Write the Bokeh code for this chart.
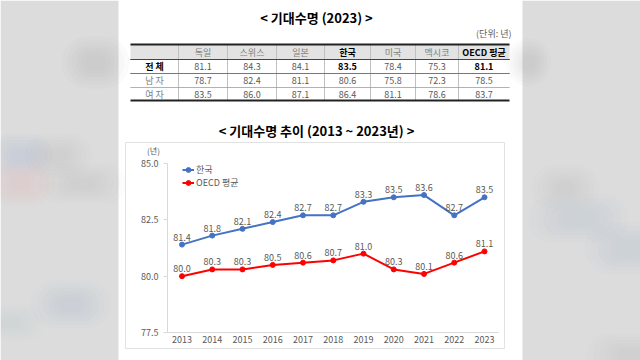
from bokeh.plotting import figure
from bokeh.models import (Range1d, FixedTicker, Label, BoxAnnotation,
                          Legend, LegendItem, ColumnDataSource, PrintfTickFormatter)
from bokeh.core.properties import value
from bokeh.embed import file_html
from bokeh.resources import INLINE

# ---- chart data ----
years = [2013, 2014, 2015, 2016, 2017, 2018, 2019, 2020, 2021, 2022, 2023]
korea = [81.4, 81.8, 82.1, 82.4, 82.7, 82.7, 83.3, 83.5, 83.6, 82.7, 83.5]
oecd = [80.0, 80.3, 80.3, 80.5, 80.6, 80.7, 81.0, 80.3, 80.1, 80.6, 81.1]
y_ticks = [77.5, 80.0, 82.5, 85.0]
series_names = ["한국", "OECD 평균"]

# ---- table data ----
table_cols = ["독일", "스위스", "일본", "한국", "미국", "멕시코", "OECD 평균"]
table_rows = ["전 체", "남 자", "여 자"]
total = [81.1, 84.3, 84.1, 83.5, 78.4, 75.3, 81.1]
male = [78.7, 82.4, 81.1, 80.6, 75.8, 72.3, 78.5]
female = [83.5, 86.0, 87.1, 86.4, 81.1, 78.6, 83.7]

FONT = "Noto Sans CJK KR"
GRAY_TXT = "#595959"
BLUE = "#4472C4"
RED = "#FF0000"
BG = "#dcdcdc"
W, H = 640, 360

# layout: the plot frame covers the whole canvas; the chart's scale is placed
# so that the first year sits at px 181.5 and years are 30.25 px apart,
# value 85.0 at px 163 and 77.5 at px 332 (from top).
PX_YEAR = 30.25
X0 = years[0] - 181.5 / PX_YEAR
PX_UNIT = (332 - 163) / (y_ticks[-1] - y_ticks[0])
Y_TOP = y_ticks[-1] + 163 / PX_UNIT
Y_BOT = y_ticks[0] - (H - 332) / PX_UNIT


def xdata(px):
    return X0 + px / PX_YEAR


p = figure(width=W, height=H, x_range=Range1d(X0, X0 + W / PX_YEAR),
           y_range=Range1d(Y_BOT, Y_TOP), output_backend="svg", toolbar_location=None,
           min_border=0)
p.outline_line_color = None
p.grid.visible = False
p.background_fill_color = "white"
p.border_fill_color = "white"

HAS_RADIUS = "border_radius" in BoxAnnotation.properties()


def box(l, r, t, b, fill=None, line=None, lw=1, dash="solid", level="annotation", alpha=1.0, radius=0):
    kw = dict(left=l, right=r, top=t, bottom=b, left_units="canvas", right_units="canvas",
              top_units="canvas", bottom_units="canvas", level=level)
    if fill:
        kw.update(fill_color=fill, fill_alpha=alpha)
    else:
        kw.update(fill_alpha=0)
    if line:
        kw.update(line_color=line, line_alpha=1, line_width=lw, line_dash=dash)
    else:
        kw.update(line_alpha=0)
    if radius and HAS_RADIUS:
        kw.update(border_radius=radius)
    p.add_layout(BoxAnnotation(**kw))


def label(x, y, text, size="9px", color=GRAY_TXT, bold=False, align="center"):
    p.add_layout(Label(x=x, y=y, x_units="canvas", y_units="canvas", text=text,
                       text_font=FONT, text_font_size=size, text_color=color,
                       text_font_style="bold" if bold else "normal",
                       text_align=align, text_baseline="middle"))


def blob(cx, cy, rx, ry, color, alpha):
    steps = (1.0, 0.85, 0.7, 0.56, 0.43, 0.3)
    for s in steps:
        w, h = rx * s, ry * s
        box(cx - w, cx + w, cy - h, cy + h, fill=color, alpha=alpha / len(steps), level="underlay",
            radius=int(min(w, h)))


# blurred background side panels
box(0, 118, 0, H, fill=BG, level="underlay")
box(522, W, 0, H, fill=BG, level="underlay")
blob(95, 62, 34, 26, "#a8a8a8", 0.25)
blob(20, 155, 32, 22, "#9fb0cf", 0.3)
blob(20, 183, 34, 22, "#e6a8a8", 0.3)
blob(58, 155, 34, 22, "#b8b8b8", 0.2)
blob(82, 183, 44, 20, "#b0b0b0", 0.2)
blob(70, 304, 40, 24, "#a9b3c6", 0.25)
blob(10, 322, 34, 18, "#b3bccc", 0.2)
blob(528, 62, 22, 24, "#a8a8a8", 0.25)
blob(565, 188, 34, 24, "#b5b5b5", 0.25)
blob(578, 218, 50, 24, "#aab6cc", 0.28)
blob(628, 248, 44, 26, "#aab6cc", 0.28)
blob(630, 355, 44, 22, "#a8a8a8", 0.2)

# chart box
box(125, 504, 142, 348, line="#e2e2e2", lw=1, level="underlay")

src = ColumnDataSource(dict(x=years, k=korea, o=oecd,
                            kl=["%.1f" % v for v in korea], ol=["%.1f" % v for v in oecd]))
r1 = p.line("x", "k", source=src, line_color=BLUE, line_width=2)
r1m = p.scatter("x", "k", source=src, size=5, color=BLUE)
r2 = p.line("x", "o", source=src, line_color=RED, line_width=2)
r2m = p.scatter("x", "o", source=src, size=5, color=RED)
for col in ("k", "o"):
    p.text(x="x", y=col, text=col + "l", source=src, text_align="center", text_baseline="bottom",
           y_offset=-4, text_font_size="9px", text_color=GRAY_TXT, text_font=value(FONT))

legend = Legend(items=[LegendItem(label=series_names[0], renderers=[r1, r1m]),
                       LegendItem(label=series_names[1], renderers=[r2, r2m])],
                location=(182, H - 189), padding=0, margin=0, spacing=0, glyph_width=12,
                glyph_height=13, label_height=13, label_standoff=2, label_text_font_size="9px",
                label_text_color=GRAY_TXT, label_text_font=FONT, border_line_color=None,
                background_fill_alpha=0)
p.add_layout(legend)

ax = p.yaxis[0]
ax.fixed_location = xdata(167)
ax.bounds = (y_ticks[0], y_ticks[-1])
ax.ticker = FixedTicker(ticks=y_ticks)
ax.formatter = PrintfTickFormatter(format="%.1f")
ax.axis_line_color = "#d9d9d9"
ax.major_tick_line_color = "#d9d9d9"
ax.major_tick_out = 4
ax.major_tick_in = 0
ax.minor_tick_line_color = None
ax.major_label_text_font_size = "9px"
ax.major_label_text_color = GRAY_TXT
ax.major_label_text_font = FONT
ax.major_label_standoff = 5

bx = p.xaxis[0]
bx.fixed_location = y_ticks[0]
bx.bounds = (xdata(167), xdata(498))
bx.ticker = FixedTicker(ticks=years)
bx.formatter = PrintfTickFormatter(format="%d")
bx.axis_line_color = "#d9d9d9"
bx.major_tick_line_color = None
bx.minor_tick_line_color = None
bx.major_tick_out = 0
bx.major_tick_in = 0
bx.major_label_text_font_size = "9px"
bx.major_label_text_color = GRAY_TXT
bx.major_label_text_font = FONT
bx.major_label_standoff = 3

# titles
label(316, 17, "< 기대수명 (2023) >", size="13px", color="#000000", bold=True)
label(511, 33, "(단위: 년)", size="9px", align="right")

# table
col_x = [130, 178, 227, 276, 324, 370, 415, 458, 509]
row_y = [44, 59, 73, 87, 100]
box(col_x[0], col_x[-1], row_y[0], row_y[1], fill="#e3e3e3", level="underlay")
for xx in col_x[1:-1]:
    box(xx, xx, row_y[0], row_y[-1], line="#c0c0c0", lw=1)
box(col_x[0], col_x[-1], row_y[0], row_y[0], line="#222222", lw=2)
box(col_x[0], col_x[-1], row_y[1], row_y[1], line="#444444", lw=1)
box(col_x[0], col_x[-1], row_y[2], row_y[2], line="#777777", lw=1)
box(col_x[0], col_x[-1], row_y[3], row_y[3], line="#999999", lw=1, dash="1 1")
box(col_x[0], col_x[-1], row_y[4], row_y[4], line="#222222", lw=2)

emph = {"한국", "OECD 평균"}
for i, c in enumerate(table_cols):
    cx = (col_x[i + 1] + col_x[i + 2]) / 2
    strong = c in emph
    label(cx, (row_y[0] + row_y[1]) / 2, c, color="#000000" if strong else "#7f7f7f", bold=strong)
    for j, vals in enumerate([total, male, female]):
        yy = (row_y[j + 1] + row_y[j + 2]) / 2
        b = strong and j == 0
        label(cx, yy, "%.1f" % vals[i], color="#000000" if b else GRAY_TXT, bold=b)
for j, rname in enumerate(table_rows):
    yy = (row_y[j + 1] + row_y[j + 2]) / 2
    label((col_x[0] + col_x[1]) / 2, yy, rname, color="#000000" if j == 0 else "#7f7f7f", bold=(j == 0))

# chart title, unit
label(316, 130, "< 기대수명 추이 (2013 ~ 2023년) >", size="13px", color="#000000", bold=True)
label(153, 150, "(년)", size="8px")

open("out.html", "w").write(file_html(p, INLINE))
